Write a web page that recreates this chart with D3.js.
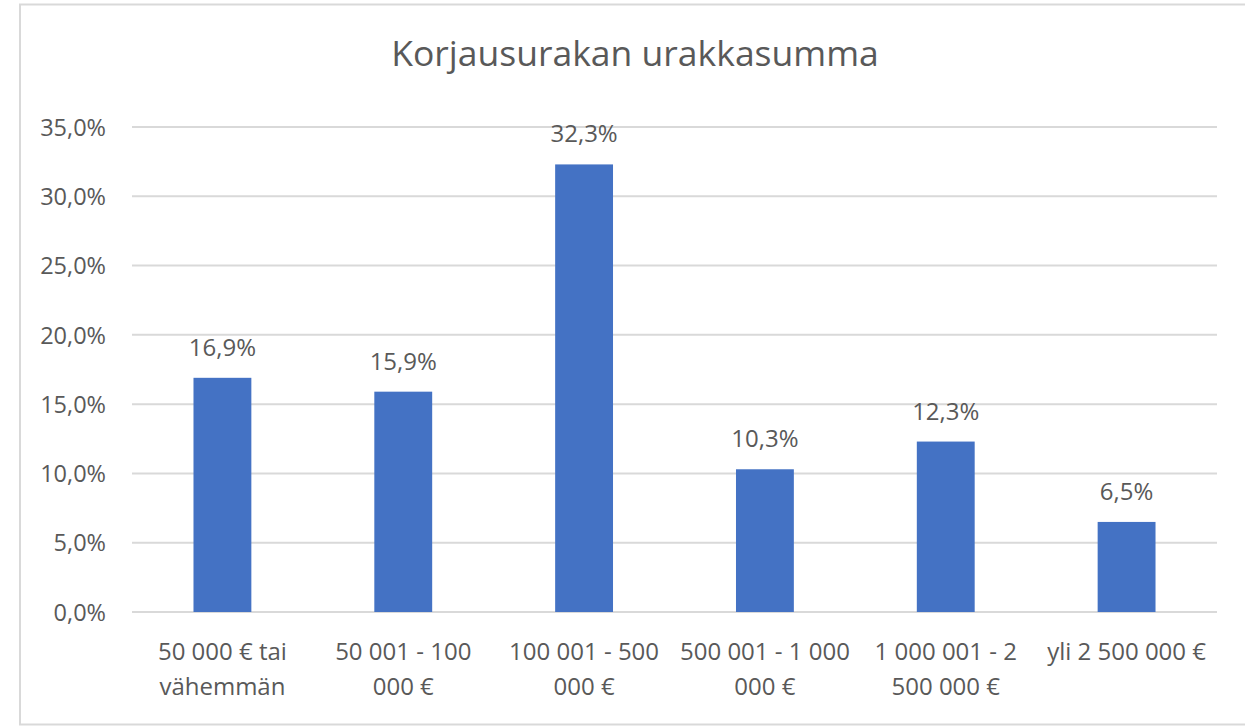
<!DOCTYPE html>
<html>
<head>
<meta charset="utf-8">
<script src="https://cdn.jsdelivr.net/npm/d3@7"></script>
<style>
  html, body { margin: 0; padding: 0; background: #fff; }
  svg { display: block; }
  text { font-family: "Open Sans", "Noto Sans", sans-serif; fill: #595959; }
</style>
</head>
<body>
<svg id="chart" width="1245" height="726"></svg>
<script>
const title = "Korjausurakan urakkasumma";
const categories = [
  "50 000 € tai\nvähemmän",
  "50 001 - 100\n000 €",
  "100 001 - 500\n000 €",
  "500 001 - 1 000\n000 €",
  "1 000 001 - 2\n500 000 €",
  "yli 2 500 000 €"
];
const values = [16.9, 15.9, 32.3, 10.3, 12.3, 6.5];
const yTicks = [0, 5, 10, 15, 20, 25, 30, 35];

const fmt = v => v.toFixed(1).replace(".", ",") + "%";

const svg = d3.select("#chart");
const plot = { left: 132, right: 1217, top: 127, bottom: 612 };
const FS = 23.5;

// chart border
svg.append("rect")
  .attr("x", 20).attr("y", 4.5)
  .attr("width", 1240).attr("height", 720)
  .attr("fill", "#fff").attr("stroke", "#d9d9d9").attr("stroke-width", 2);

const x = d3.scaleBand().domain(categories).range([plot.left, plot.right]).paddingInner(0.68).paddingOuter(0.34);
const y = d3.scaleLinear().domain([0, 35]).range([plot.bottom, plot.top]);

// gridlines
svg.append("g").selectAll("line").data(yTicks).join("line")
  .attr("x1", plot.left).attr("x2", plot.right)
  .attr("y1", d => y(d)).attr("y2", d => y(d))
  .attr("stroke", "#d9d9d9").attr("stroke-width", 2);

// y axis labels
const yAxis = d3.axisLeft(y).tickValues(yTicks).tickFormat(fmt).tickSize(0).tickPadding(0);
const gy = svg.append("g").attr("transform", `translate(106,0)`).call(yAxis);
gy.select(".domain").remove();
gy.selectAll("text").attr("font-size", FS).attr("fill", "#595959")
  .style("font-family", '"Open Sans", sans-serif').attr("dy", "0.35em");

// bars
svg.append("g").selectAll("rect").data(values).join("rect")
  .attr("x", (d, i) => x(categories[i]))
  .attr("width", x.bandwidth())
  .attr("y", d => y(d))
  .attr("height", d => y(0) - y(d))
  .attr("fill", "#4472c4");

// data labels
svg.append("g").selectAll("text").data(values).join("text")
  .attr("x", (d, i) => x(categories[i]) + x.bandwidth() / 2)
  .attr("y", d => y(d) - 22)
  .attr("text-anchor", "middle")
  .attr("font-size", 24)
  .text(fmt);

// x axis labels
const xAxis = d3.axisBottom(x).tickSize(0).tickPadding(0).tickFormat("");
const gx = svg.append("g").attr("transform", `translate(0,${plot.bottom})`).call(xAxis);
gx.select(".domain").remove();
gx.selectAll(".tick").each(function(d) {
  const t = d3.select(this).append("text")
    .attr("text-anchor", "middle")
    .attr("font-size", 24)
    .attr("fill", "#595959");
  d.split("\n").forEach((line, j) => {
    t.append("tspan").attr("x", 0).attr("y", 48 + j * 35).text(line);
  });
});

// title
svg.append("text")
  .attr("x", 635).attr("y", 66)
  .attr("text-anchor", "middle")
  .attr("font-size", 35.5)
  .text(title);
</script>
</body>
</html>
